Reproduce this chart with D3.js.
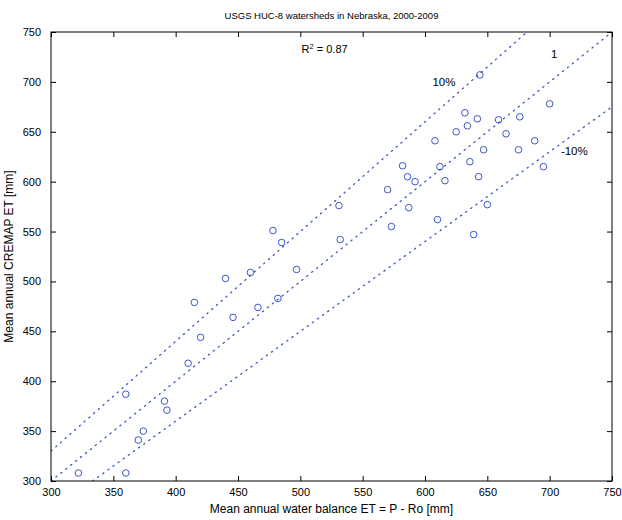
<!DOCTYPE html>
<html><head><meta charset="utf-8">
<script src="https://cdn.jsdelivr.net/npm/d3@7"></script>
<style>
body{margin:0;background:#fff}
svg{display:block}
text{font-family:"Liberation Sans",Arial,Helvetica,sans-serif;fill:#000}
</style>
</head><body>
<svg id="chart" width="622" height="520"></svg>
<script>
// ---------- data ----------
const titleText = "USGS HUC-8 watersheds in Nebraska, 2000-2009";
const xLabelText = "Mean annual water balance ET = P - Ro [mm]";
const yLabelText = "Mean annual CREMAP ET [mm]";
const xTicks = [300, 350, 400, 450, 500, 550, 600, 650, 700, 750];
const yTicks = [300, 350, 400, 450, 500, 550, 600, 650, 700, 750];

// Mean annual water balance ET (x) and CREMAP ET (y), mm
const waterBalanceET = [322, 360, 370, 374, 360, 391, 393, 410, 415, 420,
  440, 446, 460, 466, 482, 478, 485, 497, 532, 531,
  570, 573, 582, 586, 592, 587, 610, 612, 616, 608,
  625, 632, 634, 636, 643, 647, 644, 650, 659, 665,
  675, 676, 688, 695, 700, 639, 642];
const cremapET = [308, 308, 341, 350, 387, 380, 371, 418, 479, 444,
  503, 464, 509, 474, 483, 551, 539, 512, 542, 576,
  592, 555, 616, 605, 600, 574, 562, 615, 601, 641,
  650, 669, 656, 620, 605, 632, 707, 577, 662, 648,
  632, 665, 641, 615, 678, 547, 663];

// reference lines: ratio y/x
const refFactors = [1.0, 1.1, 0.9];
const refLabels = ["1", "10%", "-10%"];
const refLabelX = [701, 606, 709];
const refLabelY = [724, 696, 627];

const rSquaredValue = "0.87";
const rSquaredPos = [501, 729];

// ---------- layout ----------
const W = 622, H = 520;
const m = {left: 51, right: 10, top: 32, bottom: 39};
const x0 = m.left, x1 = W - m.right, y0 = m.top, y1 = H - m.bottom;
const blue = "#3a57c6";

const svg = d3.select("#chart");
svg.append("rect").attr("width", W).attr("height", H).attr("fill", "#fff");

const x = d3.scaleLinear().domain([300, 750]).range([x0, x1]);
const y = d3.scaleLinear().domain([300, 750]).range([y1, y0]);

svg.append("clipPath").attr("id", "plotclip")
  .append("rect").attr("x", x0).attr("y", y0).attr("width", x1 - x0).attr("height", y1 - y0);

const plot = svg.append("g").attr("clip-path", "url(#plotclip)");

// reference dotted lines
refFactors.forEach(f => {
  const xa = Math.max(300, 300 / f), xb = Math.min(750, 750 / f);
  plot.append("line")
    .attr("x1", x(xa)).attr("y1", y(xa * f))
    .attr("x2", x(xb)).attr("y2", y(xb * f))
    .attr("stroke", blue).attr("stroke-width", 1.3)
    .attr("stroke-dasharray", "1.3,5").attr("stroke-linecap", "round");
});

// markers
plot.selectAll("circle.pt").data(waterBalanceET.map((v, i) => [v, cremapET[i]]))
  .enter().append("circle").attr("class", "pt")
  .attr("cx", d => x(d[0])).attr("cy", d => y(d[1])).attr("r", 3.3)
  .attr("fill", "none").attr("stroke", blue).attr("stroke-width", 1);

// axes (MATLAB style inward ticks on all four sides)
const fs = 11;
const gB = svg.append("g").attr("transform", `translate(0,${y1})`)
  .call(d3.axisBottom(x).tickValues(xTicks).tickSizeInner(-5).tickSizeOuter(0).tickPadding(7).tickFormat(d3.format("d")));
const gT = svg.append("g").attr("transform", `translate(0,${y0})`)
  .call(d3.axisTop(x).tickValues(xTicks).tickSizeInner(-5).tickSizeOuter(0).tickFormat(""));
const gL = svg.append("g").attr("transform", `translate(${x0},0)`)
  .call(d3.axisLeft(y).tickValues(yTicks).tickSizeInner(-5).tickSizeOuter(0).tickPadding(10).tickFormat(d3.format("d")));
const gR = svg.append("g").attr("transform", `translate(${x1},0)`)
  .call(d3.axisRight(y).tickValues(yTicks).tickSizeInner(-5).tickSizeOuter(0).tickFormat(""));
[gB, gT, gL, gR].forEach(g => {
  g.select(".domain").remove();
  g.selectAll(".tick line").attr("stroke", "#000");
  g.selectAll("text").attr("font-size", fs).attr("font-family", "'Liberation Sans',Arial,sans-serif").attr("fill", "#000");
});

// box
svg.append("rect").attr("x", x0).attr("y", y0).attr("width", x1 - x0).attr("height", y1 - y0)
  .attr("fill", "none").attr("stroke", "#000").attr("stroke-width", 1);

// reference line labels
refLabels.forEach((t, i) => {
  svg.append("text").attr("x", x(refLabelX[i])).attr("y", y(refLabelY[i]))
    .attr("font-size", 11.5).text(t);
});

// R squared
const rt = svg.append("text").attr("x", x(rSquaredPos[0])).attr("y", y(rSquaredPos[1])).attr("font-size", 11);
rt.append("tspan").text("R");
rt.append("tspan").attr("dy", -4).attr("font-size", 7.5).text("2");
rt.append("tspan").attr("dy", 4).text(" = " + rSquaredValue);

// title and labels
svg.append("text").attr("x", (x0 + x1) / 2).attr("y", 19).attr("text-anchor", "middle")
  .attr("font-size", 9.5).text(titleText);
svg.append("text").attr("x", (x0 + x1) / 2).attr("y", 513).attr("text-anchor", "middle")
  .attr("font-size", 12).text(xLabelText);
svg.append("text").attr("transform", `translate(13,${(y0 + y1) / 2}) rotate(-90)`)
  .attr("text-anchor", "middle").attr("font-size", 12).text(yLabelText);
</script>
</body></html>
